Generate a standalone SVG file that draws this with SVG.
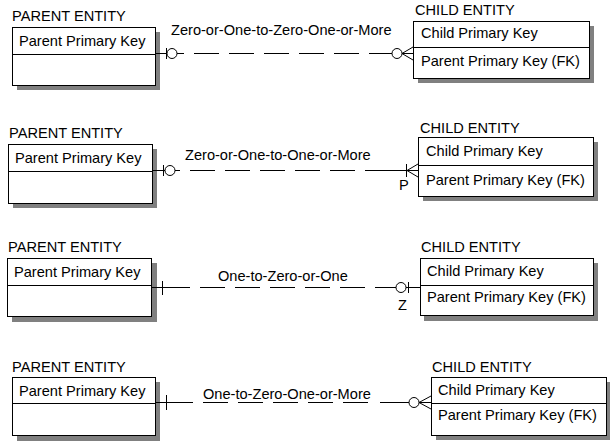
<svg xmlns="http://www.w3.org/2000/svg" width="611" height="443" viewBox="0 0 611 443">
<style>
text{font-family:"Liberation Sans",Arial,sans-serif;font-size:14.6px;fill:#000}
.box{fill:#fff;stroke:#000;stroke-width:1}
.sh{fill:#808080}
.ln{stroke:#000;stroke-width:1;fill:none}
.dash{stroke:#000;stroke-width:1;fill:none;stroke-dasharray:25 10}
</style>
<rect width="611" height="443" fill="#fff"/>
<g id="parent1">
<text x="12" y="21">PARENT ENTITY</text>
<rect class="sh" x="17" y="32" width="143" height="58"/>
<rect class="box" x="12.5" y="27.5" width="143" height="58"/>
<line class="ln" x1="12.5" y1="54.5" x2="155.5" y2="54.5"/>
<text x="19" y="46">Parent Primary Key</text>
</g>
<g id="child1">
<text x="415" y="15">CHILD ENTITY</text>
<rect class="sh" x="418" y="26" width="176" height="57"/>
<rect class="box" x="413.5" y="21.5" width="176" height="57"/>
<line class="ln" x1="413.5" y1="47.5" x2="589.5" y2="47.5"/>
<text x="421" y="38">Child Primary Key</text>
<text x="421" y="66">Parent Primary Key (FK)</text>
</g>
<g id="parent2">
<text x="9" y="138">PARENT ENTITY</text>
<rect class="sh" x="13" y="149" width="144" height="59"/>
<rect class="box" x="8.5" y="144.5" width="144" height="59"/>
<line class="ln" x1="8.5" y1="171.5" x2="152.5" y2="171.5"/>
<text x="15" y="163">Parent Primary Key</text>
</g>
<g id="child2">
<text x="420" y="133">CHILD ENTITY</text>
<rect class="sh" x="423" y="142" width="175" height="59"/>
<rect class="box" x="418.5" y="137.5" width="175" height="59"/>
<line class="ln" x1="418.5" y1="165.5" x2="593.5" y2="165.5"/>
<text x="426" y="156">Child Primary Key</text>
<text x="426" y="185">Parent Primary Key (FK)</text>
</g>
<g id="parent3">
<text x="8" y="252">PARENT ENTITY</text>
<rect class="sh" x="12" y="263" width="145" height="59"/>
<rect class="box" x="7.5" y="258.5" width="144" height="58"/>
<line class="ln" x1="7.5" y1="285.5" x2="151.5" y2="285.5"/>
<text x="14" y="277">Parent Primary Key</text>
</g>
<g id="child3">
<text x="421" y="252">CHILD ENTITY</text>
<rect class="sh" x="424" y="263" width="174" height="58"/>
<rect class="box" x="420.5" y="258.5" width="173" height="57"/>
<line class="ln" x1="420.5" y1="285.5" x2="593.5" y2="285.5"/>
<text x="427" y="276">Child Primary Key</text>
<text x="427" y="302">Parent Primary Key (FK)</text>
</g>
<g id="parent4">
<text x="12" y="372">PARENT ENTITY</text>
<rect class="sh" x="17" y="382" width="143" height="59"/>
<rect class="box" x="12.5" y="377.5" width="143" height="58"/>
<line class="ln" x1="12.5" y1="403.5" x2="155.5" y2="403.5"/>
<text x="19" y="396">Parent Primary Key</text>
</g>
<g id="child4">
<text x="432" y="372">CHILD ENTITY</text>
<rect class="sh" x="436" y="382" width="174" height="58"/>
<rect class="box" x="431.5" y="377.5" width="175" height="58"/>
<line class="ln" x1="431.5" y1="403.5" x2="606.5" y2="403.5"/>
<text x="438" y="395">Child Primary Key</text>
<text x="438" y="420">Parent Primary Key (FK)</text>
</g>
<g id="connectors">
<g id="rel1">
<line class="ln" x1="156" y1="53.5" x2="184" y2="53.5"/>
<line class="dash" x1="194" y1="53.5" x2="380" y2="53.5"/>
<line class="ln" x1="380" y1="53.5" x2="413" y2="53.5"/>
<line class="ln" x1="166.5" y1="48" x2="166.5" y2="59"/>
<circle class="box" cx="172" cy="53.5" r="5"/>
<circle class="box" cx="397" cy="53.5" r="5"/>
<path class="ln" d="M402,53.5 L413,47 M402,53.5 L413,60"/>
<text x="171" y="35">Zero-or-One-to-Zero-One-or-More</text>
</g>
<g id="rel2">
<line class="ln" x1="153" y1="170.5" x2="180" y2="170.5"/>
<line class="dash" x1="190" y1="170.5" x2="385" y2="170.5"/>
<line class="ln" x1="385" y1="170.5" x2="418" y2="170.5"/>
<line class="ln" x1="163.5" y1="165" x2="163.5" y2="176"/>
<circle class="box" cx="170" cy="170.5" r="5"/>
<line class="ln" x1="406.5" y1="164" x2="406.5" y2="177"/>
<path class="ln" d="M407,170.5 L418,164 M407,170.5 L418,177"/>
<text x="185" y="160">Zero-or-One-to-One-or-More</text>
<text x="399" y="190">P</text>
</g>
<g id="rel3">
<line class="ln" x1="152" y1="287.5" x2="190" y2="287.5"/>
<line class="dash" x1="200" y1="287.5" x2="375" y2="287.5"/>
<line class="ln" x1="375" y1="287.5" x2="420" y2="287.5"/>
<line class="ln" x1="162.5" y1="281" x2="162.5" y2="295"/>
<circle class="box" cx="401" cy="287.5" r="5"/>
<line class="ln" x1="408.5" y1="282" x2="408.5" y2="293"/>
<text x="218" y="281">One-to-Zero-or-One</text>
<text x="398" y="310">Z</text>
</g>
<g id="rel4">
<line class="ln" x1="156" y1="402.5" x2="193" y2="402.5"/>
<line class="dash" x1="203" y1="402.5" x2="371" y2="402.5"/>
<line class="ln" x1="380" y1="402.5" x2="431" y2="402.5"/>
<line class="ln" x1="166.5" y1="395" x2="166.5" y2="410"/>
<circle class="box" cx="414" cy="402.5" r="5"/>
<path class="ln" d="M419,402.5 L431,396 M419,402.5 L431,409"/>
<text x="203" y="399">One-to-Zero-One-or-More</text>
</g>
</g>
</svg>
